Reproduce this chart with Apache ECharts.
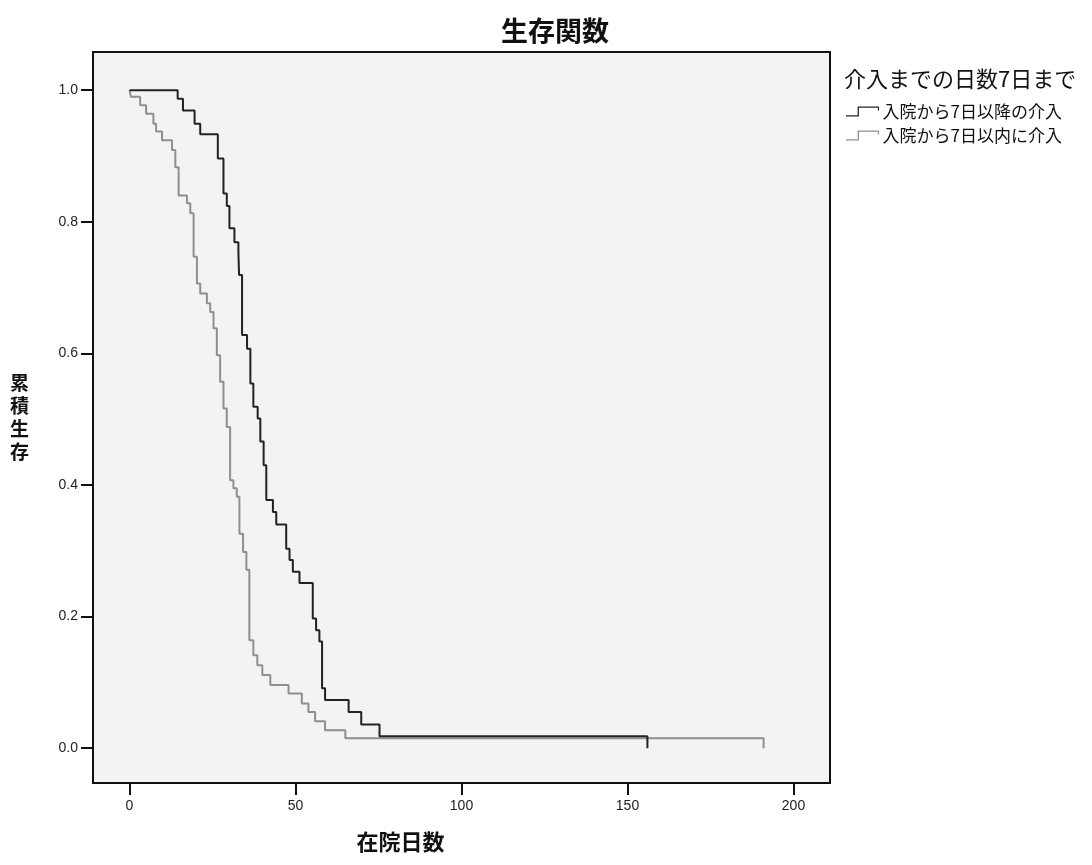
<!DOCTYPE html>
<html><head><meta charset="utf-8">
<script src="https://cdn.jsdelivr.net/npm/echarts@6/dist/echarts.min.js"></script>
<style>html,body{margin:0;padding:0;background:#fff}#c{width:1092px;height:865px}</style>
</head><body><div id="c"></div>
<script>
const chartTitle = '生存関数';
const legendTitle = '介入までの日数7日まで';
const seriesNames = ['入院から7日以降の介入', '入院から7日以内に介入'];
const xTicks = [0, 50, 100, 150, 200];
const yTicks = [0, 0.2, 0.4, 0.6, 0.8, 1.0];
// later-intervention group (upper curve)
const lateDays = [0, 14.5, 16.1, 19.6, 21.3, 26.6, 28.3, 29.3, 30.1, 31.6, 32.8, 33.0, 33.9, 35.4, 36.4, 37.3, 38.6, 39.4, 40.4, 41.2, 43.2, 44.2, 47.2, 48.2, 49.2, 51.2, 55.2, 56.2, 57.2, 58.0, 58.9, 66.0, 69.8, 75.3, 156, 156];
const lateSurv = [1.0, 0.987, 0.969, 0.949, 0.933, 0.896, 0.843, 0.824, 0.790, 0.769, 0.752, 0.719, 0.628, 0.607, 0.554, 0.519, 0.501, 0.466, 0.430, 0.377, 0.359, 0.340, 0.303, 0.286, 0.268, 0.251, 0.197, 0.179, 0.162, 0.091, 0.073, 0.055, 0.036, 0.018, 0.018, 0.0];
// early-intervention group (lower curve)
const earlyDays = [0, 0.4, 3.2, 5.0, 7.2, 8.0, 9.8, 12.8, 13.8, 14.8, 17.3, 18.3, 19.3, 20.3, 21.3, 23.3, 24.3, 25.3, 26.3, 27.3, 28.3, 29.3, 30.3, 31.3, 32.3, 33.1, 34.2, 35.2, 36.1, 37.3, 38.5, 40.0, 42.4, 47.9, 51.9, 53.9, 55.9, 58.9, 65.0, 191, 191];
const earlySurv = [1.0, 0.990, 0.977, 0.964, 0.949, 0.937, 0.924, 0.909, 0.883, 0.840, 0.828, 0.813, 0.747, 0.706, 0.691, 0.676, 0.663, 0.638, 0.597, 0.557, 0.516, 0.488, 0.407, 0.395, 0.382, 0.326, 0.298, 0.271, 0.164, 0.141, 0.126, 0.111, 0.096, 0.083, 0.068, 0.055, 0.041, 0.027, 0.015, 0.015, 0.0];

const zip = (a, b) => a.map((v, i) => [v, b[i]]);
const colors = ['#222222', '#8f8f8f'];
const stepIcon = 'path://M0,9 L12,9 L12,0 L34,0 L34,4 L32.8,4 L32.8,1.3 L13.3,1.3 L13.3,10.3 L0,10.3 Z';
const font = '"Liberation Sans", Arial, sans-serif';
const cjk = '"Noto Sans CJK JP", sans-serif';

const chart = echarts.init(document.getElementById('c'), null, {renderer: 'canvas'});
chart.setOption({
  animation: false,
  backgroundColor: '#fff',
  title: [
    {text: chartTitle, left: 496, top: 12, textStyle: {fontFamily: cjk, fontSize: 27, fontWeight: 'bold', color: '#111'}},
    {text: legendTitle, left: 839, top: 63, textStyle: {fontFamily: cjk, fontSize: 22, fontWeight: 'normal', color: '#111'}}
  ],
  legend: {
    orient: 'vertical', left: 841, top: 98, itemGap: 7, itemWidth: 36, itemHeight: 10,
    icon: stepIcon,
    textStyle: {fontFamily: cjk, fontSize: 17, color: '#111', padding: [0, 0, 0, -3]},
    data: seriesNames
  },
  grid: {left: 93, top: 52, right: 262, bottom: 82, show: true, borderColor: '#111', borderWidth: 2, backgroundColor: '#f3f3f3'},
  xAxis: {
    type: 'value', min: -11, max: 211,
    name: '在院日数', nameLocation: 'middle', nameGap: 48,
    nameTextStyle: {fontFamily: cjk, fontSize: 22, fontWeight: 'bold', color: '#111', padding: [0, 122, 0, 0]},
    axisLine: {show: true, onZero: false, lineStyle: {color: '#111', width: 2}},
    axisTick: {show: true, length: 12, lineStyle: {color: '#111', width: 2}, customValues: xTicks},
    axisLabel: {margin: 16, fontFamily: font, fontSize: 14, color: '#222', customValues: xTicks, formatter: v => String(v)},
    splitLine: {show: false}
  },
  yAxis: {
    type: 'value', min: -0.053, max: 1.058,
    name: '累\n積\n生\n存', nameLocation: 'middle', nameGap: 64, nameRotate: 0,
    nameTextStyle: {fontFamily: cjk, fontSize: 19, fontWeight: 'bold', color: '#111', lineHeight: 23, padding: [0, 0, 36, 0]},
    axisLine: {show: true, onZero: false, lineStyle: {color: '#111', width: 2}},
    axisTick: {show: true, length: 12, lineStyle: {color: '#111', width: 2}, customValues: yTicks},
    axisLabel: {margin: 15, fontFamily: font, fontSize: 14, color: '#222', customValues: yTicks, formatter: v => v.toFixed(1)},
    splitLine: {show: false}
  },
  series: [
    {name: seriesNames[0], type: 'line', step: 'end', showSymbol: false, symbol: 'none', data: zip(lateDays, lateSurv),
     lineStyle: {color: colors[0], width: 2}, itemStyle: {color: colors[0]}, z: 3},
    {name: seriesNames[1], type: 'line', step: 'end', showSymbol: false, symbol: 'none', data: zip(earlyDays, earlySurv),
     lineStyle: {color: colors[1], width: 2}, itemStyle: {color: colors[1]}, z: 2}
  ]
});
</script></body></html>
